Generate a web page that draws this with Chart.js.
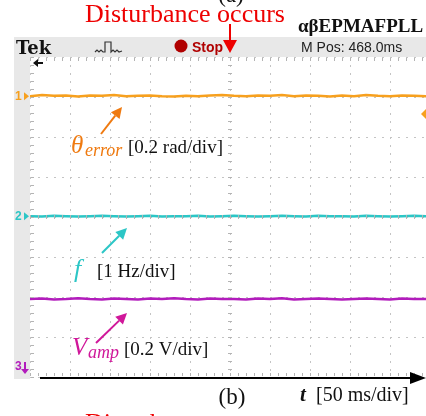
<!DOCTYPE html>
<html>
<head>
<meta charset="utf-8">
<script src="https://cdn.jsdelivr.net/npm/chart.js@4.4.1/dist/chart.umd.min.js"></script>
<style>
  html, body { margin: 0; padding: 0; background: #fff; overflow: hidden; }
  canvas { display: block; }
</style>
</head>
<body>
<canvas id="scope" width="426" height="416"></canvas>
<script>
// time base: 50 ms/div, screen shows ~9.9 divisions
const timeMs = [0, 15, 30, 45, 60, 75, 90, 105, 120, 135, 150, 165, 180, 195, 210, 225, 240,
  255, 270, 285, 300, 315, 330, 345, 360, 375, 390, 405, 420, 435, 450, 465, 480, 495];

// traces, in screen divisions from the centre line
const thetaError = [3.02, 3.05, 3.03, 3.04, 3.01, 3.04, 3.03, 3.05, 3.02, 3.03, 3.04, 3.02, 3.01, 3.03,
  3.02, 3.04, 3.05, 3.03, 3.02, 3.04, 3.03, 3.05, 3.02, 3.04, 3.03, 3.01, 3.04, 3.02, 3.05, 3.03,
  3.02, 3.04, 3.03, 3.02];
const freq = [0.02, 0.01, 0.03, 0.02, 0.01, 0.02, 0.03, 0.02, 0.01, 0.02, 0.03, 0.01, 0.02, 0.02,
  0.03, 0.01, 0.02, 0.03, 0.02, 0.01, 0.02, 0.03, 0.02, 0.01, 0.03, 0.02, 0.02, 0.01, 0.03, 0.02,
  0.01, 0.02, 0.03, 0.02];
const vamp = [-2.05, -2.04, -2.06, -2.05, -2.03, -2.05, -2.06, -2.04, -2.05, -2.06, -2.04, -2.05,
  -2.03, -2.05, -2.06, -2.04, -2.05, -2.05, -2.06, -2.04, -2.05, -2.03, -2.06, -2.05, -2.04, -2.05,
  -2.06, -2.05, -2.04, -2.05, -2.06, -2.04, -2.05, -2.05];

const ORANGE = '#f7a01e';
const CYAN = '#2cc6c6';
const MAGENTA = '#b21cbc';

const toPoints = (ys) => ys.map((y, i) => ({ x: timeMs[i], y: y }));

const scopeDecor = {
  id: 'scopeDecor',
  beforeDraw(chart) {
    const ctx = chart.ctx;
    const a = chart.chartArea;
    ctx.save();
    ctx.fillStyle = '#fff';
    ctx.fillRect(0, 0, chart.width, chart.height);
    // header bar
    ctx.fillStyle = '#e8e8e8';
    ctx.fillRect(14, 37, chart.width - 14, a.top - 37);
    // left strip
    ctx.fillRect(14, a.top, a.left - 14, a.bottom - a.top + 2);
    ctx.restore();
  },
  afterDraw(chart) {
    const ctx = chart.ctx;
    const a = chart.chartArea;
    const xs = chart.scales.x;
    const ys = chart.scales.y;
    const cx = xs.getPixelForValue(250);
    const cy = ys.getPixelForValue(0);
    const minor = (xs.getPixelForValue(50) - xs.getPixelForValue(0)) / 5;
    ctx.save();

    // minor ticks along edges and centre cross
    ctx.strokeStyle = '#b4b4b4';
    ctx.lineWidth = 1;
    ctx.beginPath();
    for (let x = a.left; x <= a.right; x += minor) {
      const px = Math.round(x) + 0.5;
      ctx.moveTo(px, a.top + 1); ctx.lineTo(px, a.top + 4);
      ctx.moveTo(px, cy - 2); ctx.lineTo(px, cy + 2);
      ctx.moveTo(px, a.bottom - 4); ctx.lineTo(px, a.bottom - 1);
    }
    for (let y = a.top; y <= a.bottom; y += minor) {
      const py = Math.round(y) + 0.5;
      ctx.moveTo(a.left + 1, py); ctx.lineTo(a.left + 4, py);
      ctx.moveTo(cx - 2, py); ctx.lineTo(cx + 2, py);
    }
    ctx.stroke();

    // header texts
    ctx.fillStyle = '#111';
    ctx.font = 'bold 18px "DejaVu Serif"';
    ctx.textBaseline = 'alphabetic';
    ctx.fillText('Tek', 16, 54);
    // trigger glyph
    ctx.strokeStyle = '#333';
    ctx.lineWidth = 1.2;
    ctx.beginPath();
    ctx.moveTo(95, 52); ctx.lineTo(97, 50); ctx.lineTo(99, 52); ctx.lineTo(101, 50);
    ctx.lineTo(103, 52); ctx.lineTo(105, 52); ctx.lineTo(105, 42); ctx.lineTo(111, 42);
    ctx.lineTo(111, 52); ctx.lineTo(113, 50); ctx.lineTo(115, 52); ctx.lineTo(117, 50);
    ctx.lineTo(119, 52); ctx.lineTo(122, 51);
    ctx.stroke();
    ctx.fillStyle = '#b00000';
    ctx.beginPath();
    ctx.arc(181, 46, 6.5, 0, Math.PI * 2);
    ctx.fill();
    ctx.font = 'bold 14px "Liberation Sans"';
    ctx.fillText('Stop', 192, 52);
    ctx.fillStyle = '#222';
    ctx.font = '14px "Liberation Sans"';
    ctx.fillText('M Pos: 468.0ms', 301, 52);

    // trigger position arrow
    ctx.fillStyle = '#111';
    ctx.beginPath();
    ctx.moveTo(33, 63); ctx.lineTo(38, 59); ctx.lineTo(38, 67); ctx.closePath(); ctx.fill();
    ctx.fillRect(37, 62, 6, 2);

    // channel markers
    const marker = (label, color, y) => {
      ctx.fillStyle = color;
      ctx.font = 'bold 12px "Liberation Sans"';
      ctx.fillText(label, 15, y + 4);
      ctx.beginPath();
      ctx.moveTo(29, y); ctx.lineTo(24, y - 4); ctx.lineTo(24, y + 4); ctx.closePath(); ctx.fill();
    };
    marker('1', ORANGE, ys.getPixelForValue(thetaError[0]));
    marker('2', CYAN, ys.getPixelForValue(freq[0]));
    ctx.fillStyle = MAGENTA;
    ctx.font = 'bold 12px "Liberation Sans"';
    ctx.fillText('3', 15, 370);
    ctx.fillRect(24, 362, 2, 8);
    ctx.beginPath();
    ctx.moveTo(21, 369); ctx.lineTo(29, 369); ctx.lineTo(25, 374); ctx.closePath(); ctx.fill();

    // trigger level diamond
    ctx.fillStyle = ORANGE;
    ctx.beginPath();
    ctx.moveTo(421, 114); ctx.lineTo(426, 109); ctx.lineTo(431, 114); ctx.lineTo(426, 119);
    ctx.closePath(); ctx.fill();

    // time axis arrow
    ctx.strokeStyle = '#000';
    ctx.fillStyle = '#000';
    ctx.lineWidth = 2;
    ctx.beginPath();
    ctx.moveTo(40, 378); ctx.lineTo(412, 378); ctx.stroke();
    ctx.beginPath();
    ctx.moveTo(426, 378); ctx.lineTo(410, 372); ctx.lineTo(410, 384); ctx.closePath(); ctx.fill();

    // annotations
    const arrow = (x1, y1, x2, y2, color) => {
      const ang = Math.atan2(y2 - y1, x2 - x1);
      const hl = 11, hw = 5.5;
      const bx = x2 - hl * Math.cos(ang), by = y2 - hl * Math.sin(ang);
      ctx.strokeStyle = color;
      ctx.fillStyle = color;
      ctx.lineWidth = 2;
      ctx.beginPath(); ctx.moveTo(x1, y1); ctx.lineTo(bx, by); ctx.stroke();
      ctx.beginPath();
      ctx.moveTo(x2, y2);
      ctx.lineTo(bx + hw * Math.sin(ang), by - hw * Math.cos(ang));
      ctx.lineTo(bx - hw * Math.sin(ang), by + hw * Math.cos(ang));
      ctx.closePath(); ctx.fill();
    };
    arrow(101, 134, 122, 107, '#ef7a10');
    arrow(102, 253, 127, 228, CYAN);
    arrow(96, 343, 127, 313, '#d0179a');

    ctx.fillStyle = '#ef7a10';
    ctx.font = 'italic 25px "Liberation Serif"';
    ctx.fillText('\u03b8', 71, 153);
    ctx.font = 'italic 18px "Liberation Serif"';
    ctx.fillText('error', 85, 156);
    ctx.fillStyle = '#111';
    ctx.font = '19px "Liberation Serif"';
    ctx.fillText('[0.2 rad/div]', 128, 153);

    ctx.fillStyle = CYAN;
    ctx.font = 'italic 26px "Liberation Serif"';
    ctx.fillText('f', 74, 277);
    ctx.fillStyle = '#111';
    ctx.font = '19px "Liberation Serif"';
    ctx.fillText('[1 Hz/div]', 97, 277);

    ctx.fillStyle = '#d0179a';
    ctx.font = 'italic 25px "Liberation Serif"';
    ctx.fillText('V', 72, 355);
    ctx.font = 'italic 18px "Liberation Serif"';
    ctx.fillText('amp', 88, 358);
    ctx.fillStyle = '#111';
    ctx.font = '19px "Liberation Serif"';
    ctx.fillText('[0.2 V/div]', 124, 355);

    // figure labels
    ctx.font = '23px "Liberation Serif"';
    ctx.textAlign = 'center';
    ctx.fillText('(b)', 232, 404);
    ctx.fillText('(a)', 231, 2);
    ctx.textAlign = 'left';
    ctx.font = 'bold italic 21px "Liberation Serif"';
    ctx.fillText('t', 300, 401);
    ctx.font = '20px "Liberation Serif"';
    ctx.fillText('[50 ms/div]', 316, 401);

    ctx.fillStyle = '#111';
    ctx.font = 'bold 19px "Liberation Serif"';
    ctx.fillText('\u03b1\u03b2EPMAFPLL', 298, 32);

    ctx.fillStyle = '#ee0000';
    ctx.font = '26px "Liberation Serif"';
    ctx.fillText('Disturbance occurs', 85, 22);
    ctx.fillText('Disturbance occurs', 85, 431);
    // disturbance arrow
    ctx.fillRect(cx - 1, 24, 2, 18);
    ctx.beginPath();
    ctx.moveTo(cx - 7, 40); ctx.lineTo(cx + 7, 40); ctx.lineTo(cx, 53); ctx.closePath(); ctx.fill();

    ctx.restore();
  }
};

new Chart(document.getElementById('scope'), {
  type: 'line',
  data: {
    datasets: [
      { label: 'theta error', data: toPoints(thetaError), borderColor: ORANGE, borderWidth: 2.5 },
      { label: 'f', data: toPoints(freq), borderColor: CYAN, borderWidth: 2.5 },
      { label: 'Vamp', data: toPoints(vamp), borderColor: MAGENTA, borderWidth: 2.5 }
    ]
  },
  options: {
    responsive: false,
    animation: false,
    layout: { padding: { left: 30, top: 57, right: 0, bottom: 39 } },
    elements: { point: { radius: 0 }, line: { tension: 0 } },
    plugins: { legend: { display: false }, tooltip: { enabled: false } },
    scales: {
      x: {
        type: 'linear', min: 0, max: 495,
        ticks: { display: false, stepSize: 50 },
        grid: { color: '#c4c4c4', lineWidth: 1, drawTicks: false },
        border: { display: false, dash: [2, 6] }
      },
      y: {
        min: -4, max: 4,
        ticks: { display: false, stepSize: 1 },
        grid: { color: '#c4c4c4', lineWidth: 1, drawTicks: false },
        border: { display: false, dash: [2, 6] }
      }
    }
  },
  plugins: [scopeDecor]
});
</script>
</body>
</html>
